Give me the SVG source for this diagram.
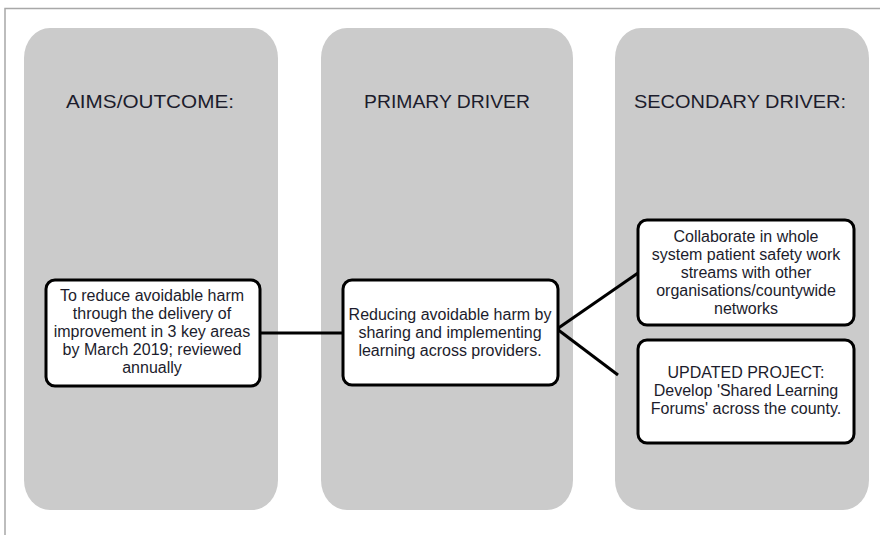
<svg xmlns="http://www.w3.org/2000/svg" width="880" height="535" viewBox="0 0 880 535">
<style>
.col{fill:#cbcbcb}
.hdr{font-family:"Liberation Sans",Arial,sans-serif;font-size:19px;fill:#1c1c2c;text-anchor:middle}
.box{fill:#fff;stroke:#000;stroke-width:3}
.t{font-family:"Liberation Sans",Arial,sans-serif;font-size:16px;fill:#1c1c2c;text-anchor:middle}
.conn{stroke:#000;stroke-width:3;fill:none}
</style>
<rect width="880" height="535" fill="#fff"/>
<path d="M5 535 V8.5 H880" fill="none" stroke="#a8a8a8" stroke-width="1.5"/>
<g id="col-aims">
<rect class="col" x="24" y="28" width="254" height="482" rx="26" ry="30"/>
<text class="hdr" x="150" y="108" textLength="168" lengthAdjust="spacingAndGlyphs">AIMS/OUTCOME:</text>
</g>
<g id="col-primary">
<rect class="col" x="321" y="28" width="252" height="482" rx="26" ry="30"/>
<text class="hdr" x="447" y="108" textLength="166" lengthAdjust="spacingAndGlyphs">PRIMARY DRIVER</text>
</g>
<g id="col-secondary">
<rect class="col" x="615" y="28" width="254" height="482" rx="26" ry="30"/>
<text class="hdr" x="740" y="108" textLength="212" lengthAdjust="spacingAndGlyphs">SECONDARY DRIVER:</text>
</g>
<g id="connectors">
<line class="conn" x1="260" y1="333" x2="343" y2="333"/>
<line class="conn" x1="557" y1="329" x2="638" y2="273"/>
<line class="conn" x1="557" y1="329" x2="618" y2="375"/>
</g>
<g id="aim">
<rect class="box" x="46" y="280" width="214" height="106" rx="9"/>
<text class="t" x="152" y="301">To reduce avoidable harm</text>
<text class="t" x="152" y="319">through the delivery of</text>
<text class="t" x="152" y="337">improvement in 3 key areas</text>
<text class="t" x="152" y="355">by March 2019; reviewed</text>
<text class="t" x="152" y="373">annually</text>
</g>
<g id="primary">
<rect class="box" x="343" y="280" width="215" height="105" rx="9"/>
<text class="t" x="450" y="320">Reducing avoidable harm by</text>
<text class="t" x="450" y="338">sharing and implementing</text>
<text class="t" x="450" y="356">learning across providers.</text>
</g>
<g id="secondary1">
<rect class="box" x="638" y="220" width="216" height="105" rx="9"/>
<text class="t" x="746" y="242">Collaborate in whole</text>
<text class="t" x="746" y="260">system patient safety work</text>
<text class="t" x="746" y="278">streams with other</text>
<text class="t" x="746" y="296">organisations/countywide</text>
<text class="t" x="746" y="314">networks</text>
</g>
<g id="secondary2">
<rect class="box" x="638" y="340" width="216" height="103" rx="9"/>
<text class="t" x="746" y="378">UPDATED PROJECT:</text>
<text class="t" x="746" y="396">Develop 'Shared Learning</text>
<text class="t" x="746" y="414">Forums' across the county.</text>
</g>
</svg>
